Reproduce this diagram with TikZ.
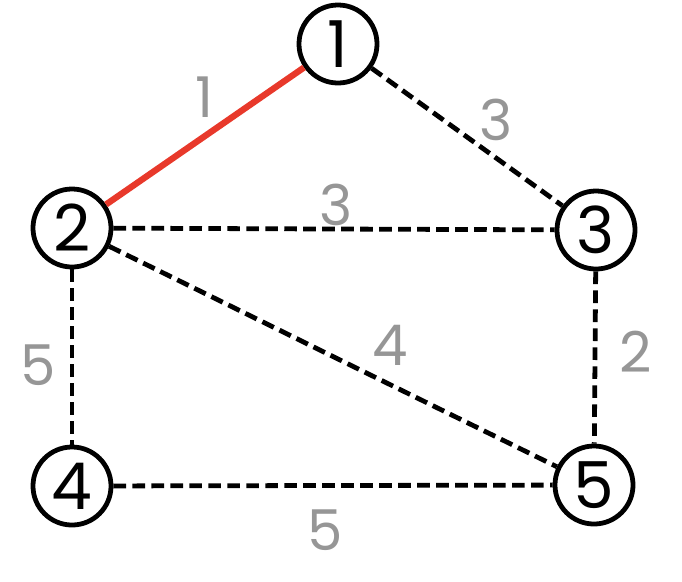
\documentclass[tikz,border=0pt]{standalone}
\usepackage{fontspec}
\setmainfont{Poppins}
\usetikzlibrary{positioning}
\definecolor{edgered}{RGB}{232,57,43}
\definecolor{labelgray}{RGB}{150,150,150}

\begin{document}
\begin{tikzpicture}[x=0.025cm, y=-0.025cm,
        vertex/.style={draw, circle, line width=3.4pt, minimum size=1.95cm, inner sep=0pt, font=\fontsize{46}{46}\selectfont},
        link/.style={line width=3.4pt, dash pattern=on 9pt off 4.5pt},
        chosen/.style={line width=4.5pt, draw=edgered},
        weight/.style={text=labelgray, font=\fontsize{40}{40}\selectfont}
    ]
        \useasboundingbox (0,0) rectangle (682,581);

        % vertices
        \node[vertex] (v1) at (338,44) {1};
        \node[vertex] (v2) at (72,228) {2};
        \node[vertex] (v3) at (596,230) {3};
        \node[vertex] (v4) at (72,486) {4};
        \node[vertex] (v5) at (594,485) {5};

        % edges
        \draw[chosen] (v1) -- (v2);
        \draw[link] (v1) -- (v3);
        \draw[link] (v2) -- (v3);
        \draw[link] (v2) -- (v4);
        \draw[link] (v2) -- (v5);
        \draw[link] (v3) -- (v5);
        \draw[link] (v4) -- (v5);

        % weights
        \node[weight] (w12) at (204,97) {1};
        \node[weight] (w13) at (496,120) {3};
        \node[weight] (w23) at (336,205) {3};
        \node[weight] (w24) at (38,365) {5};
        \node[weight] (w25) at (390,345) {4};
        \node[weight] (w35) at (636,352) {2};
        \node[weight] (w45) at (325,530) {5};
    \end{tikzpicture}
\end{document}
